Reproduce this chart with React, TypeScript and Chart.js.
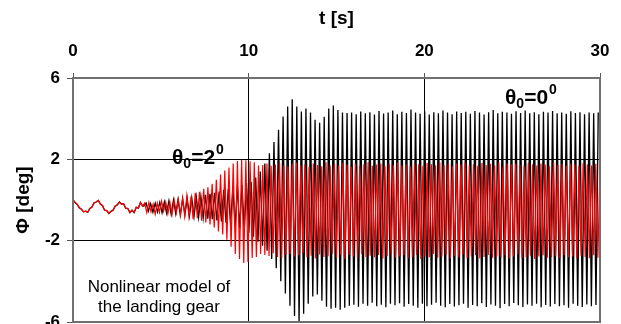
import React, { useEffect, useRef } from "react";
import { Chart, registerables } from "chart.js";

Chart.register(...registerables);

const FONT = "'Liberation Sans', Arial, Helvetica, sans-serif";

const X_TICKS = [0, 10, 20, 30];
const Y_TICKS = [-6, -2, 2, 6];
const X_TITLE = "t [s]";
const Y_TITLE = "Φ [deg]";

// sampling interval of each recorded series [s]
const RED_STEP = 0.12;
const BLACK_STEP = 0.13;
// the θ0 = 0° run coincides with the θ0 = 2° run until this time [s]
const BLACK_LATE_START = 4.03;

// θ0 = 2°  (red), sampled every RED_STEP from t = 0
const RED_THETA2: number[] = [
  0.0, -0.12, -0.22, -0.38, -0.45, -0.58, -0.55, -0.6, -0.42, -0.35,
  -0.14, -0.1, -0.02, -0.2, -0.28, -0.5, -0.52, -0.66, -0.56, -0.5,
  -0.3, -0.24, -0.1, -0.2, -0.18, -0.4, -0.42, -0.62, -0.5, -0.62,
  -0.36, -0.4, -0.12, -0.3, -0.15, -0.62, -0.12, -0.58, -0.2, -0.7,
  -0.15, -0.6, -0.05, -0.55, -0.1, -0.68, -0.12, -0.7, 0.0, -0.62,
  0.02, -0.72, 0.1, -0.8, 0.2, -0.82, 0.18, -0.95, 0.35, -0.9,
  0.4, -1.02, 0.55, -1.1, 0.62, -1.2, 0.8, -1.35, 1.0, -1.55,
  1.25, -1.7, 1.45, -1.95, 1.6, -2.3, 1.8, -2.65, 1.92, -2.9,
  1.98, -3.1, 1.95, -3.05, 1.9, -2.85, 1.85, -2.8, 1.7, -2.65,
  1.72, -2.7, 1.8, -2.75, 1.68, -2.62, 1.75, -2.8, 1.82, -2.85,
  1.7, -2.7, 1.65, -2.66, 1.78, -2.78, 1.84, -2.72, 1.7, -2.6,
  1.76, -2.82, 1.62, -2.74, 1.8, -2.88, 1.72, -2.68, 1.66, -2.8,
  1.85, -2.76, 1.7, -2.64, 1.78, -2.84, 1.68, -2.72, 1.82, -2.9,
  1.74, -2.7, 1.64, -2.78, 1.8, -2.86, 1.7, -2.66, 1.76, -2.8,
  1.86, -2.74, 1.68, -2.82, 1.74, -2.7, 1.8, -2.88, 1.66, -2.76,
  1.78, -2.68, 1.72, -2.84, 1.84, -2.78, 1.7, -2.72, 1.76, -2.86,
  1.64, -2.8, 1.8, -2.7, 1.74, -2.9, 1.68, -2.76, 1.82, -2.82,
  1.76, -2.66, 1.7, -2.84, 1.86, -2.78, 1.72, -2.7, 1.78, -2.88,
  1.66, -2.74, 1.8, -2.82, 1.74, -2.68, 1.84, -2.86, 1.7, -2.78,
  1.76, -2.72, 1.68, -2.88, 1.82, -2.8, 1.72, -2.7, 1.78, -2.84,
  1.7, -2.76, 1.84, -2.82, 1.66, -2.7, 1.8, -2.88, 1.74, -2.78,
  1.78, -2.68, 1.72, -2.86, 1.68, -2.8, 1.82, -2.74, 1.76, -2.9,
  1.7, -2.78, 1.8, -2.72, 1.74, -2.84, 1.66, -2.8, 1.84, -2.76,
  1.72, -2.86, 1.78, -2.7, 1.7, -2.82, 1.8, -2.78, 1.76, -2.88,
  1.68, -2.74, 1.82, -2.8, 1.74, -2.86, 1.7, -2.72, 1.78, -2.84,
  1.72,
];

// θ0 = 0°  (black), early part sampled every RED_STEP from t = 0
const BLACK_THETA0_EARLY: number[] = [
  0.0, -0.12, -0.22, -0.38, -0.45, -0.58, -0.55, -0.6, -0.42, -0.35,
  -0.14, -0.1, -0.02, -0.2, -0.28, -0.5, -0.52, -0.66, -0.56, -0.5,
  -0.3, -0.24, -0.1, -0.2, -0.18, -0.4, -0.42, -0.62, -0.5, -0.62,
  -0.36, -0.4, -0.12, -0.3,
];

// θ0 = 0°  (black), later part sampled every BLACK_STEP from BLACK_LATE_START
const BLACK_THETA0_LATE: number[] = [
  -0.3, -0.15, -0.55, -0.18, -0.6, -0.15, -0.58, -0.12, -0.62,
  -0.1, -0.65, -0.05, -0.7, 0.0, -0.68, 0.02, -0.75, 0.05, -0.72,
  0.08, -0.78, 0.1, -0.8, 0.15, -0.85, 0.18, -0.88, 0.25, -0.92,
  0.3, -0.95, 0.35, -1.0, 0.42, -1.05, 0.5, -1.12, 0.55, -1.2,
  0.6, -1.3, 0.68, -1.4, 0.75, -1.5, 0.82, -1.62, 0.9, -1.8,
  1.1, -2.05, 1.4, -2.25, 1.8, -2.5, 2.3, -2.9, 2.85, -3.35,
  3.45, -4.0, 4.1, -4.6, 4.6, -5.2, 4.95, -5.7, 4.6, -6.03,
  4.35, -5.6, 4.5, -5.1, 4.3, -4.75, 3.95, -4.65, 3.8, -4.95,
  4.1, -5.25, 4.5, -5.35, 4.65, -5.3, 4.42, -5.4, 4.3, -5.3,
  4.28, -5.2, 4.3, -5.15, 4.22, -5.25, 4.35, -5.1, 4.26, -5.2,
  4.32, -5.05, 4.2, -5.22, 4.38, -5.15, 4.25, -5.28, 4.3, -5.1,
  4.4, -5.18, 4.22, -5.08, 4.34, -5.25, 4.28, -5.12, 4.45, -5.2,
  4.3, -5.3, 4.24, -5.1, 4.36, -5.22, 4.2, -5.15, 4.32, -5.05,
  4.26, -5.2, 4.4, -5.28, 4.3, -5.12, 4.22, -5.24, 4.35, -5.18,
  4.28, -5.1, 4.34, -5.3, 4.24, -5.16, 4.38, -5.22, 4.3, -5.08,
  4.2, -5.26, 4.32, -5.14, 4.42, -5.2, 4.26, -5.32, 4.34, -5.12,
  4.3, -5.22, 4.24, -5.06, 4.36, -5.18, 4.28, -5.26, 4.4, -5.14,
  4.26, -5.2, 4.32, -5.1, 4.22, -5.28, 4.34, -5.16, 4.3, -5.24,
  4.38, -5.12, 4.26, -5.22, 4.3, -5.18, 4.24, -5.3, 4.36, -5.1,
  4.28, -5.2, 4.32, -5.26, 4.22, -5.14, 4.3, -5.22, 4.26, -5.16,
  4.3,
];

const NOTE_LINES = ["Nonlinear model of", "the landing gear"];

function toPoints(values: number[], step: number, start = 0) {
  return values.map((v, i) => ({ x: start + i * step, y: v }));
}

function drawTheta(ctx: CanvasRenderingContext2D, x: number, baseline: number, value: string) {
  ctx.fillStyle = "#000";
  ctx.textAlign = "left";
  ctx.textBaseline = "alphabetic";
  ctx.font = `bold 21px ${FONT}`;
  ctx.fillText("θ", x, baseline);
  x += ctx.measureText("θ").width;
  ctx.font = `bold 14px ${FONT}`;
  ctx.fillText("0", x, baseline + 4);
  x += ctx.measureText("0").width;
  ctx.font = `bold 21px ${FONT}`;
  ctx.fillText("=" + value, x, baseline);
  x += ctx.measureText("=" + value).width;
  ctx.font = `bold 14px ${FONT}`;
  ctx.fillText("0", x + 1, baseline - 10);
}

const decorPlugin = {
  id: "decor",
  afterDatasetsDraw(chart: any) {
    const { ctx, chartArea } = chart;
    const { left, top, right, bottom } = chartArea;
    ctx.save();
    ctx.strokeStyle = "#707070";
    ctx.lineWidth = 2;
    ctx.strokeRect(left, top, right - left, bottom - top);

    drawTheta(ctx, left + 99, top + 86, "2");
    drawTheta(ctx, left + 432, top + 26, "0");

    ctx.fillStyle = "#000";
    ctx.font = `17px ${FONT}`;
    ctx.textAlign = "center";
    ctx.textBaseline = "alphabetic";
    ctx.fillText(NOTE_LINES[0], left + 86, top + 214);
    ctx.fillText(NOTE_LINES[1], left + 86, top + 234);
    ctx.restore();
  },
};

export default function App() {
  const ref = useRef<HTMLCanvasElement | null>(null);

  useEffect(() => {
    if (!ref.current) return;
    const blackPoints = [
      ...toPoints(BLACK_THETA0_EARLY, RED_STEP, 0),
      ...toPoints(BLACK_THETA0_LATE, BLACK_STEP, BLACK_LATE_START),
    ];
    const chart = new Chart(ref.current, {
      type: "line",
      data: {
        datasets: [
          {
            label: "θ0=2°",
            data: toPoints(RED_THETA2, RED_STEP, 0),
            borderColor: "#ff0000",
            borderWidth: 1.2,
            pointRadius: 0,
            tension: 0,
            fill: false,
          },
          {
            label: "θ0=0°",
            data: blackPoints,
            borderColor: "#000000",
            borderWidth: 1.3,
            pointRadius: 0,
            tension: 0,
            fill: false,
          },
        ],
      },
      options: {
        animation: false,
        responsive: false,
        maintainAspectRatio: false,
        parsing: false as any,
        normalized: true,
        layout: { padding: { left: 0, right: 21, top: 0, bottom: 2 } },
        plugins: {
          legend: { display: false },
          tooltip: { enabled: false },
          title: { display: false },
        },
        scales: {
          x: {
            type: "linear",
            position: "top",
            min: 0,
            max: 30,
            afterBuildTicks: (s: any) => {
              s.ticks = X_TICKS.map((v) => ({ value: v }));
            },
            afterFit: (s: any) => {
              s.height = 78;
            },
            ticks: {
              color: "#000",
              font: { family: FONT, size: 17, weight: "bold" },
              padding: 11,
              maxRotation: 0,
              autoSkip: false,
            },
            grid: {
              color: "#000",
              lineWidth: 1,
              drawTicks: true,
              tickLength: 5,
              tickColor: "#555",
            },
            border: { display: false },
            title: {
              display: true,
              text: X_TITLE,
              color: "#000",
              font: { family: FONT, size: 19, weight: "bold" },
              padding: { top: 7, bottom: 0 },
            },
          },
          y: {
            type: "linear",
            position: "left",
            min: -6,
            max: 6,
            afterBuildTicks: (s: any) => {
              s.ticks = Y_TICKS.map((v) => ({ value: v }));
            },
            afterFit: (s: any) => {
              s.width = 73;
              s.paddingTop = 0;
              s.paddingBottom = 0;
            },
            ticks: {
              color: "#000",
              font: { family: FONT, size: 17, weight: "bold" },
              padding: 7,
              autoSkip: false,
            },
            grid: {
              color: "#000",
              lineWidth: 1,
              drawTicks: true,
              tickLength: 6,
              tickColor: "#555",
            },
            border: { display: false },
            title: {
              display: true,
              text: Y_TITLE,
              color: "#000",
              font: { family: FONT, size: 19, weight: "bold" },
              padding: { top: 12, bottom: 0 },
            },
          },
        },
      },
      plugins: [decorPlugin],
    });
    return () => chart.destroy();
  }, []);

  return (
    <div style={{ position: "absolute", left: 0, top: 0, width: 621, height: 324, overflow: "hidden", background: "#fff" }}>
      <canvas ref={ref} width={621} height={324} style={{ display: "block", width: 621, height: 324 }} />
    </div>
  );
}
